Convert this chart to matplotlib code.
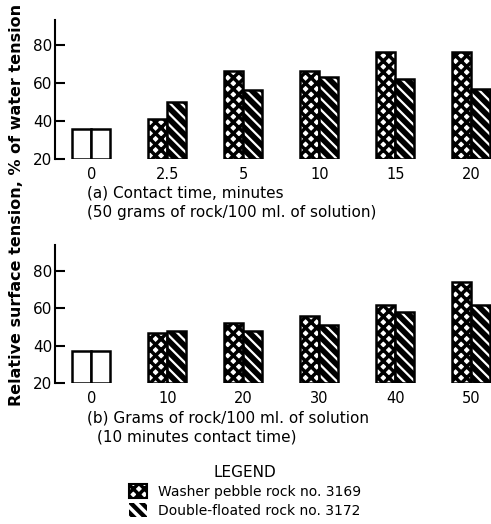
import matplotlib.pyplot as plt
from matplotlib.patches import Patch

plt.rcParams['font.family'] = ['DejaVu Sans']
plt.rcParams['hatch.linewidth'] = 2.5

# Panel (a): contact time
contact_time = ['0', '2.5', '5', '10', '15', '20']
washer_a = [36, 41, 66, 66, 76, 76]
double_a = [36, 50, 56, 63, 62, 57]

# Panel (b): grams of rock
rock_grams = ['0', '10', '20', '30', '40', '50']
washer_b = [37, 47, 52, 56, 62, 74]
double_b = [37, 48, 48, 51, 58, 62]

W, H = 491, 524
fig = plt.figure(figsize=(W / 100, H / 100), dpi=100)


def px(x, y):
    return x / W, 1 - y / H


def draw_panel(ax, labels, washer, double, ytop):
    bw = 0.25
    for i in range(len(labels)):
        if i == 0:
            # control: plain white bars
            ax.bar(i - bw / 2, washer[i] - 20, bw, bottom=20, facecolor='white',
                   edgecolor='black', linewidth=1.8)
            ax.bar(i + bw / 2, double[i] - 20, bw, bottom=20, facecolor='white',
                   edgecolor='black', linewidth=1.8)
            continue
        ax.bar(i - bw / 2, washer[i] - 20, bw, bottom=20, facecolor='white',
               edgecolor='black', hatch='xxx', linewidth=1.8)
        # thinner white stripes on black
        with plt.rc_context({'hatch.linewidth': 1.6}):
            ax.bar(i + bw / 2, double[i] - 20, bw, bottom=20, facecolor='black',
                   edgecolor='white', hatch='\\\\\\', linewidth=0)
        ax.bar(i + bw / 2, double[i] - 20, bw, bottom=20, fill=False,
               edgecolor='black', linewidth=1.8)
    ax.set_xlim(-0.48, 5.26)
    ax.set_ylim(20, ytop)
    ax.set_yticks([20, 40, 60, 80])
    ax.set_xticks(range(len(labels)))
    ax.set_xticklabels(labels)
    for s in ['top', 'right', 'bottom']:
        ax.spines[s].set_visible(False)
    ax.spines['left'].set_linewidth(1.5)
    ax.tick_params(axis='y', direction='in', length=7, width=1.5,
                   labelsize=11, pad=2)
    ax.tick_params(axis='x', length=0, labelsize=10.5, pad=6)


ax_a = fig.add_axes([55 / W, 1 - 159 / H, 436 / W, 139 / H])
draw_panel(ax_a, contact_time, washer_a, double_a, 93)

ax_b = fig.add_axes([55 / W, 1 - 383 / H, 436 / W, 138 / H])
draw_panel(ax_b, rock_grams, washer_b, double_b, 94)

fig.text(*px(17, 205), 'Relative surface tension, % of water tension',
         rotation=90, ha='center', va='center', fontsize=11.5, fontweight='bold')

fig.text(*px(87, 193), '(a) Contact time, minutes', ha='left', va='center', fontsize=11)
fig.text(*px(87, 213), '(50 grams of rock/100 ml. of solution)', ha='left',
         va='center', fontsize=11)
fig.text(*px(87, 418), '(b) Grams of rock/100 ml. of solution', ha='left',
         va='center', fontsize=11)
fig.text(*px(97, 437), '(10 minutes contact time)', ha='left', va='center',
         fontsize=11)

washer_patch = Patch(facecolor='white', edgecolor='black', hatch='xxx', linewidth=1.5)
with plt.rc_context({'hatch.linewidth': 1.6}):
    double_patch = Patch(facecolor='black', edgecolor='white', hatch='\\\\\\', linewidth=0)
leg = fig.legend([washer_patch, double_patch],
                 ['Washer pebble rock no. 3169', 'Double-floated rock no. 3172'],
                 loc='upper left', bbox_to_anchor=px(122, 458), frameon=False,
                 title='LEGEND', fontsize=10, handlelength=1.3, handleheight=1.2,
                 handletextpad=0.8, labelspacing=0.3, borderpad=0)
leg.get_title().set_fontsize(11)

fig.savefig('out.png', dpi=100)
